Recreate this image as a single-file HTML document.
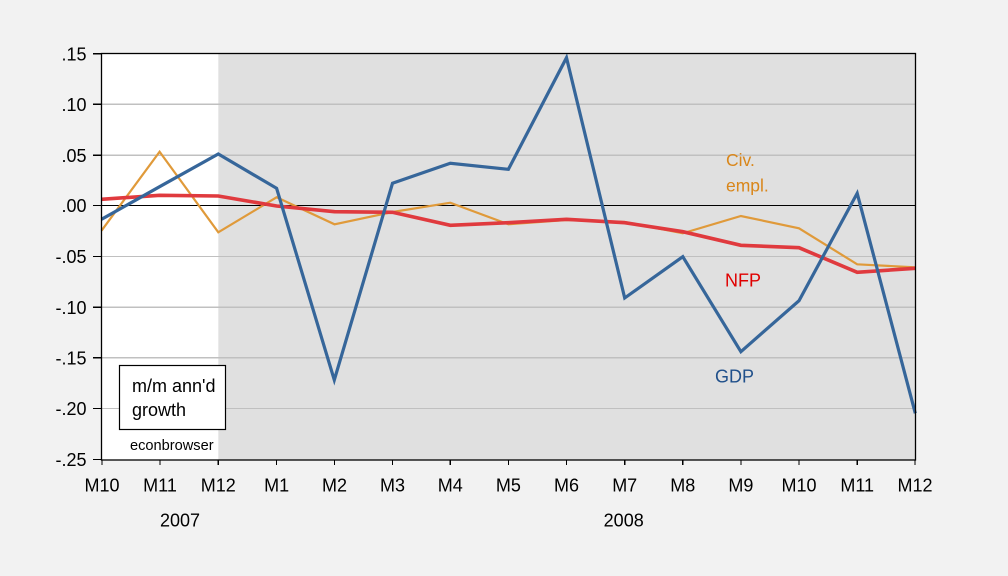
<!DOCTYPE html>
<html><head><meta charset="utf-8"><style>
html,body{margin:0;padding:0;background:#f2f2f2;}
svg{display:block;font-family:"Liberation Sans",Arial,sans-serif;}
</style></head><body>
<svg width="1008" height="576" viewBox="0 0 1008 576" xmlns="http://www.w3.org/2000/svg">
<rect x="0" y="0" width="1008" height="576" fill="#f2f2f2"/>
<rect x="101.5" y="53.5" width="814" height="406.5" fill="#ffffff"/>
<rect x="218.3" y="53.5" width="697" height="406.5" fill="#e0e0e0"/>
<g stroke="#c0c0c0" stroke-width="1.2" shape-rendering="crispEdges">
<line x1="101.5" x2="915.3" y1="104.3" y2="104.3"/>
<line x1="101.5" x2="915.3" y1="155.3" y2="155.3"/>
<line x1="101.5" x2="915.3" y1="256.5" y2="256.5"/>
<line x1="101.5" x2="915.3" y1="307.3" y2="307.3"/>
<line x1="101.5" x2="915.3" y1="357.8" y2="357.8"/>
<line x1="101.5" x2="915.3" y1="408.6" y2="408.6"/>
</g>
<line x1="101.5" x2="915.3" y1="205.5" y2="205.5" stroke="#000" stroke-width="1.2" shape-rendering="crispEdges"/>
<rect x="119.5" y="365.5" width="106" height="64" fill="#fff" stroke="#000" stroke-width="1.2"/>
<text x="132" y="392" font-size="18" fill="#000">m/m ann'd</text>
<text x="132" y="416" font-size="18" fill="#000">growth</text>
<text x="130" y="450" font-size="14.6" fill="#000">econbrowser</text>
<g fill="none" stroke-linejoin="miter" stroke-linecap="butt">
<polyline stroke="#e09a3a" stroke-width="2.2" points="101.5,230.7 159.6,151.7 218.3,232.3 276.6,197.3 334.5,224.3 392.5,212 450.3,202.7 508.4,224.3 566.5,220 624.7,222 682.8,233.3 740.9,216 799,228.3 857.2,264.3 915.3,267.3"/>
<polyline stroke="#e03a3e" stroke-width="3.6" points="101.5,199.3 159.6,195.3 218.3,196 276.6,206 334.5,211.7 392.5,212.3 450.3,225.3 508.4,222.7 566.5,219.3 624.7,222.7 682.8,231.7 740.9,245.3 799,247.7 857.2,272.3 915.3,268.3"/>
<polyline stroke="#36669a" stroke-width="3.2" points="101.5,219.3 159.6,186.7 218.3,154 276.6,188.3 334.3,380 392.5,183.3 450.3,163.3 508.4,169.3 566.5,57.7 624.7,298 682.8,256.7 740.9,351.7 799,300.7 857.2,193.3 915.3,413.3"/>
</g>
<rect x="101.5" y="53.5" width="814" height="406.5" fill="none" stroke="#000" stroke-width="1.3"/>
<text x="726" y="166" font-size="17.5" fill="#d9861a">Civ.</text>
<text x="726" y="191.5" font-size="17.5" fill="#d9861a">empl.</text>
<text x="725" y="286.5" font-size="18" fill="#e00000">NFP</text>
<text x="715" y="382.5" font-size="18" fill="#1f4f8a">GDP</text>
<g stroke="#000" stroke-width="1.2" shape-rendering="crispEdges">
<line x1="93" x2="101.5" y1="53.7" y2="53.7"/>
<line x1="93" x2="101.5" y1="104.3" y2="104.3"/>
<line x1="93" x2="101.5" y1="155.3" y2="155.3"/>
<line x1="93" x2="101.5" y1="205.5" y2="205.5"/>
<line x1="93" x2="101.5" y1="256.5" y2="256.5"/>
<line x1="93" x2="101.5" y1="307.3" y2="307.3"/>
<line x1="93" x2="101.5" y1="357.8" y2="357.8"/>
<line x1="93" x2="101.5" y1="408.6" y2="408.6"/>
<line x1="93" x2="101.5" y1="459.5" y2="459.5"/>
<line x1="102" x2="102" y1="460" y2="465"/>
<line x1="160" x2="160" y1="460" y2="465"/>
<line x1="218.3" x2="218.3" y1="460" y2="465"/>
<line x1="276.6" x2="276.6" y1="460" y2="465"/>
<line x1="334.5" x2="334.5" y1="460" y2="465"/>
<line x1="392.5" x2="392.5" y1="460" y2="465"/>
<line x1="450.3" x2="450.3" y1="460" y2="465"/>
<line x1="508.4" x2="508.4" y1="460" y2="465"/>
<line x1="566.5" x2="566.5" y1="460" y2="465"/>
<line x1="624.7" x2="624.7" y1="460" y2="465"/>
<line x1="682.8" x2="682.8" y1="460" y2="465"/>
<line x1="740.9" x2="740.9" y1="460" y2="465"/>
<line x1="799" x2="799" y1="460" y2="465"/>
<line x1="857.2" x2="857.2" y1="460" y2="465"/>
<line x1="915" x2="915" y1="460" y2="465"/>
</g>
<g font-size="18" fill="#000" text-anchor="end">
<text x="86.5" y="60.3">.15</text>
<text x="86.5" y="110.9">.10</text>
<text x="86.5" y="161.9">.05</text>
<text x="86.5" y="212.1">.00</text>
<text x="86.5" y="263.1">-.05</text>
<text x="86.5" y="313.9">-.10</text>
<text x="86.5" y="364.4">-.15</text>
<text x="86.5" y="415.2">-.20</text>
<text x="86.5" y="466.1">-.25</text>
</g>
<g font-size="18" fill="#000" text-anchor="middle">
<text x="102" y="491.5">M10</text>
<text x="160" y="491.5">M11</text>
<text x="218.3" y="491.5">M12</text>
<text x="276.6" y="491.5">M1</text>
<text x="334.5" y="491.5">M2</text>
<text x="392.5" y="491.5">M3</text>
<text x="450.3" y="491.5">M4</text>
<text x="508.4" y="491.5">M5</text>
<text x="566.5" y="491.5">M6</text>
<text x="624.7" y="491.5">M7</text>
<text x="682.8" y="491.5">M8</text>
<text x="740.9" y="491.5">M9</text>
<text x="799" y="491.5">M10</text>
<text x="857.2" y="491.5">M11</text>
<text x="915" y="491.5">M12</text>
<text x="180" y="526.5">2007</text>
<text x="623.7" y="526.5">2008</text>
</g>
</svg>
</body></html>
